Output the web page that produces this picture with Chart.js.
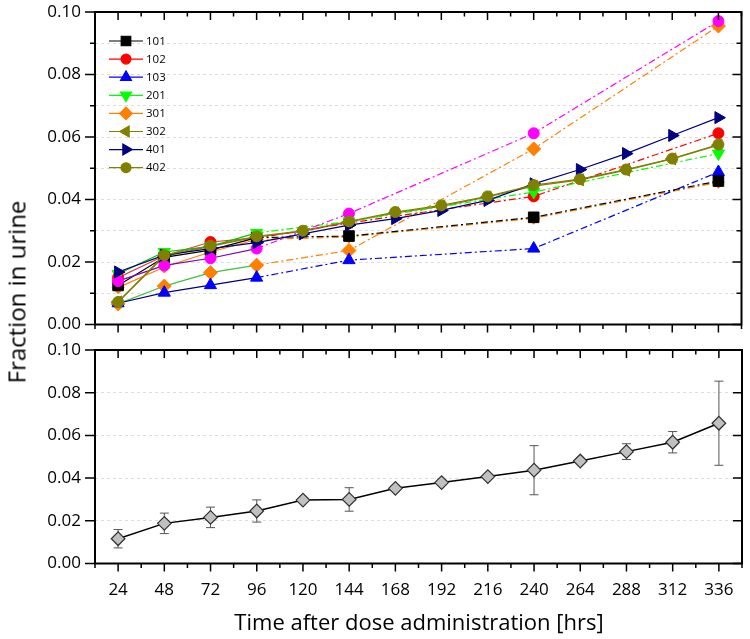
<!DOCTYPE html>
<html>
<head>
<meta charset="utf-8">
<script src="https://cdn.jsdelivr.net/npm/chart.js@4.4.0/dist/chart.umd.min.js"></script>
<style>
  body { margin: 0; background: #fff; width: 750px; height: 639px; position: relative; overflow: hidden; }
  #topChart { position: absolute; left: 0; top: 0; }
  #botChart { position: absolute; left: 0; top: 338px; }
  .ytitle { position: absolute; left: 16px; top: 292px; transform: translate(-50%, -50%) rotate(-90deg);
            font-family: "Open Sans", sans-serif; font-size: 24px; white-space: nowrap; color: #000; }
  .xtitle { position: absolute; left: 419px; top: 621px; transform: translate(-50%, -50%);
            font-family: "Open Sans", sans-serif; font-size: 22px; white-space: nowrap; color: #000; }
</style>
</head>
<body>
<canvas id="topChart" width="750" height="340"></canvas>
<canvas id="botChart" width="750" height="301"></canvas>
<div class="ytitle">Fraction in urine</div>
<div class="xtitle">Time after dose administration [hrs]</div>
<script>
// time points (hrs)
const times = [24, 48, 72, 96, 120, 144, 168, 192, 216, 240, 264, 288, 312, 336];

// individual subjects (null = not sampled)
const s101 = [0.0125, 0.0215, 0.0238, 0.0278, null, 0.0283, null, null, null, 0.0343, null, null, null, 0.0459];
const s102 = [0.0150, 0.0220, 0.0264, 0.0277, null, 0.0325, null, null, null, 0.0410, null, null, null, 0.0612];
const s103 = [0.0068, 0.0102, 0.0126, 0.0150, null, 0.0206, null, null, null, 0.0243, null, null, null, 0.0488];
const s201 = [0.0162, 0.0232, 0.0250, 0.0293, null, 0.0330, null, null, null, 0.0424, null, null, null, 0.0547];
const s301 = [0.0066, 0.0123, 0.0166, 0.0190, null, 0.0237, null, null, null, 0.0562, null, null, null, 0.0955];
const s302 = [0.0072, 0.0218, 0.0250, 0.0280, 0.0298, 0.0328, 0.0357, 0.0378, 0.0408, 0.0443, 0.0463, 0.0494, 0.0530, 0.0574];
const s401 = [0.0168, 0.0222, 0.0243, 0.0262, 0.0290, 0.0318, 0.0339, 0.0365, 0.0397, 0.0450, 0.0496, 0.0547, 0.0605, 0.0662];
const s402 = [0.0072, 0.0222, 0.0252, 0.0282, 0.0300, 0.0330, 0.0360, 0.0381, 0.0410, 0.0446, 0.0465, 0.0496, 0.0531, 0.0576];
const sMagenta = [0.0139, 0.0189, 0.0212, 0.0243, null, 0.0355, null, null, null, 0.0612, null, null, null, 0.0971];
const sOrange2 = [0.0118, 0.0184, 0.0232, 0.0272, null, 0.0280, null, null, null, 0.0340, null, null, null, 0.0455];

// mean +/- sd
const meanVals = [0.0116, 0.0188, 0.0216, 0.0246, 0.0297, 0.0300, 0.0352, 0.0379, 0.0407, 0.0437, 0.0480, 0.0524, 0.0568, 0.0657];
const sdVals   = [0.0043, 0.0048, 0.0048, 0.0052, 0.0008, 0.0055, 0.0012, 0.0012, 0.0010, 0.0115, 0.0010, 0.0037, 0.0050, 0.0197];

const yTicks = { min: 0, max: 0.1, step: 0.01 };

function toPoints(vals) {
  const pts = [];
  vals.forEach((v, i) => { if (v !== null) pts.push({ x: times[i], y: v }); });
  return pts;
}

const dashPattern = [7, 3, 2, 3];

function series(label, vals, color, lineColor, style, rotation, radius) {
  return {
    label: label,
    data: toPoints(vals),
    borderColor: color,
    backgroundColor: color,
    pointBackgroundColor: color,
    pointBorderColor: color,
    pointBorderWidth: 1,
    pointStyle: style,
    pointRotation: rotation,
    pointRadius: radius,
    pointHoverRadius: radius,
    borderWidth: 1.2,
    tension: 0,
    segment: {
      borderDash: c => (c.p1.parsed.x - c.p0.parsed.x > 24 ? dashPattern : []),
      borderColor: c => (c.p1.parsed.x - c.p0.parsed.x > 24 ? color : lineColor)
    }
  };
}

const topDatasets = [
  series('402', s402, '#808000', '#808000', 'circle', 0, 5.5),
  series('401', s401, '#000080', '#000080', 'triangle', 90, 7),
  series('', sMagenta, '#ff00ff', '#8000c0', 'circle', 0, 5.5),
  series('201', s201, '#00ff00', '#00c000', 'triangle', 180, 7),
  series('101', s101, '#000000', '#000000', 'rect', 0, 7.5),
  series('102', s102, '#ff0000', '#e04040', 'circle', 0, 5.5),
  series('103', s103, '#0000ff', '#000080', 'triangle', 0, 7),
  series('301', s301, '#ff8000', '#40c040', 'rectRot', 0, 7),
  series('', sOrange2, '#ff8000', '#ff8000', 'rectRot', 0, 6),
  series('302', s302, '#808000', '#808000', 'triangle', 270, 7)
];
const legendOrder = ['101', '102', '103', '201', '301', '302', '401', '402'];

// frame + tick marks drawn like the original (inward on top/right)
const framePlugin = {
  id: 'frame',
  afterDraw(chart) {
    const ctx = chart.ctx;
    const a = chart.chartArea;
    const xs = chart.scales.x, ys = chart.scales.y;
    ctx.save();
    ctx.strokeStyle = '#000';
    ctx.lineWidth = 1.5;
    ctx.beginPath();
    xs.ticks.forEach(t => {
      const px = xs.getPixelForValue(t.value);
      const len = t.value % 24 === 0 ? 8 : 4.5;
      ctx.moveTo(px, a.bottom); ctx.lineTo(px, a.bottom + len);
      ctx.moveTo(px, a.top); ctx.lineTo(px, a.top + len);
    });
    ys.ticks.forEach(t => {
      const py = ys.getPixelForValue(t.value);
      const major = Math.round(t.value * 100) % 2 === 0;
      ctx.moveTo(a.left - (major ? 10 : 5), py); ctx.lineTo(a.left, py);
      ctx.moveTo(a.right - (major ? 9 : 5), py); ctx.lineTo(a.right, py);
    });
    ctx.stroke();
    ctx.lineWidth = 2;
    ctx.strokeRect(a.left, a.top, a.right - a.left, a.bottom - a.top);
    ctx.restore();
  }
};

const legendPlugin = {
  id: 'innerLegend',
  afterDraw(chart) {
    const ctx = chart.ctx;
    const x0 = 109, x1 = 143, xm = 126, y0 = 41, dy = 18.1;
    ctx.save();
    legendOrder.forEach((lab, i) => {
      const ds = chart.data.datasets.find(d => d.label === lab);
      const y = y0 + i * dy;
      ctx.strokeStyle = ds.borderColor;
      ctx.lineWidth = 1.2;
      ctx.setLineDash([]);
      ctx.beginPath(); ctx.moveTo(x0, y); ctx.lineTo(x1, y); ctx.stroke();
      ctx.fillStyle = ds.pointBackgroundColor;
      ctx.strokeStyle = ds.pointBorderColor;
      Chart.helpers.drawPoint(ctx, {
        pointStyle: ds.pointStyle, rotation: ds.pointRotation,
        radius: ds.pointRadius * 0.9, borderWidth: 1
      }, xm, y);
      ctx.fillStyle = '#000';
      ctx.font = '11.5px "Open Sans", sans-serif';
      ctx.textBaseline = 'middle';
      ctx.textAlign = 'left';
      ctx.fillText(lab, 146, y + 0.5);
    });
    ctx.restore();
  }
};

const errorBarPlugin = {
  id: 'errorBars',
  beforeDatasetsDraw(chart) {
    const ctx = chart.ctx;
    const xs = chart.scales.x, ys = chart.scales.y;
    ctx.save();
    ctx.strokeStyle = '#555';
    ctx.lineWidth = 1;
    ctx.beginPath();
    meanVals.forEach((m, i) => {
      const px = xs.getPixelForValue(times[i]);
      const yHi = ys.getPixelForValue(m + sdVals[i]);
      const yLo = ys.getPixelForValue(m - sdVals[i]);
      ctx.moveTo(px, yHi); ctx.lineTo(px, yLo);
      ctx.moveTo(px - 4.5, yHi); ctx.lineTo(px + 4.5, yHi);
      ctx.moveTo(px - 4.5, yLo); ctx.lineTo(px + 4.5, yLo);
    });
    ctx.stroke();
    ctx.restore();
  }
};

function scalesFor(showXLabels, xHeight) {
  return {
    x: {
      type: 'linear',
      min: 12,
      max: 348,
      afterFit: s => { s.height = xHeight; s.paddingLeft = 0; s.paddingRight = 0; },
      grid: { display: false, drawTicks: false },
      border: { display: false },
      ticks: {
        display: showXLabels,
        stepSize: 12,
        autoSkip: false,
        maxRotation: 0,
        padding: 16,
        color: '#000',
        font: { family: '"Open Sans", sans-serif', size: 17 },
        callback: v => (v % 24 === 0 && v >= 24 && v <= 336 ? String(v) : '')
      }
    },
    y: {
      min: yTicks.min,
      max: yTicks.max,
      afterFit: s => { s.width = 95; s.paddingTop = 0; s.paddingBottom = 0; },
      grid: { color: '#dddddd', lineWidth: 1, drawTicks: false },
      border: { display: false, dash: [3, 3] },
      ticks: {
        stepSize: yTicks.step,
        padding: 14,
        color: '#000',
        font: { family: '"Open Sans", sans-serif', size: 17 },
        callback: v => (Math.round(v * 100) % 2 === 0 ? v.toFixed(2) : '')
      }
    }
  };
}

new Chart(document.getElementById('topChart'), {
  type: 'line',
  data: { datasets: topDatasets },
  options: {
    responsive: false,
    animation: false,
    layout: { padding: { top: 12, right: 7, left: 0, bottom: 0 } },
    plugins: { legend: { display: false }, tooltip: { enabled: false } },
    scales: scalesFor(false, 15.5)
  },
  plugins: [framePlugin, legendPlugin]
});

new Chart(document.getElementById('botChart'), {
  type: 'line',
  data: {
    datasets: [{
      label: 'mean',
      data: toPoints(meanVals),
      borderColor: '#000',
      borderWidth: 1.5,
      pointStyle: 'rectRot',
      pointRadius: 6.8,
      pointBackgroundColor: '#c0c0c0',
      pointBorderColor: '#303030',
      pointBorderWidth: 1.2,
      tension: 0
    }]
  },
  options: {
    responsive: false,
    animation: false,
    layout: { padding: { top: 12, right: 7, left: 0, bottom: 0 } },
    plugins: { legend: { display: false }, tooltip: { enabled: false } },
    scales: scalesFor(true, 75.5)
  },
  plugins: [errorBarPlugin, framePlugin]
});
</script>
</body>
</html>
